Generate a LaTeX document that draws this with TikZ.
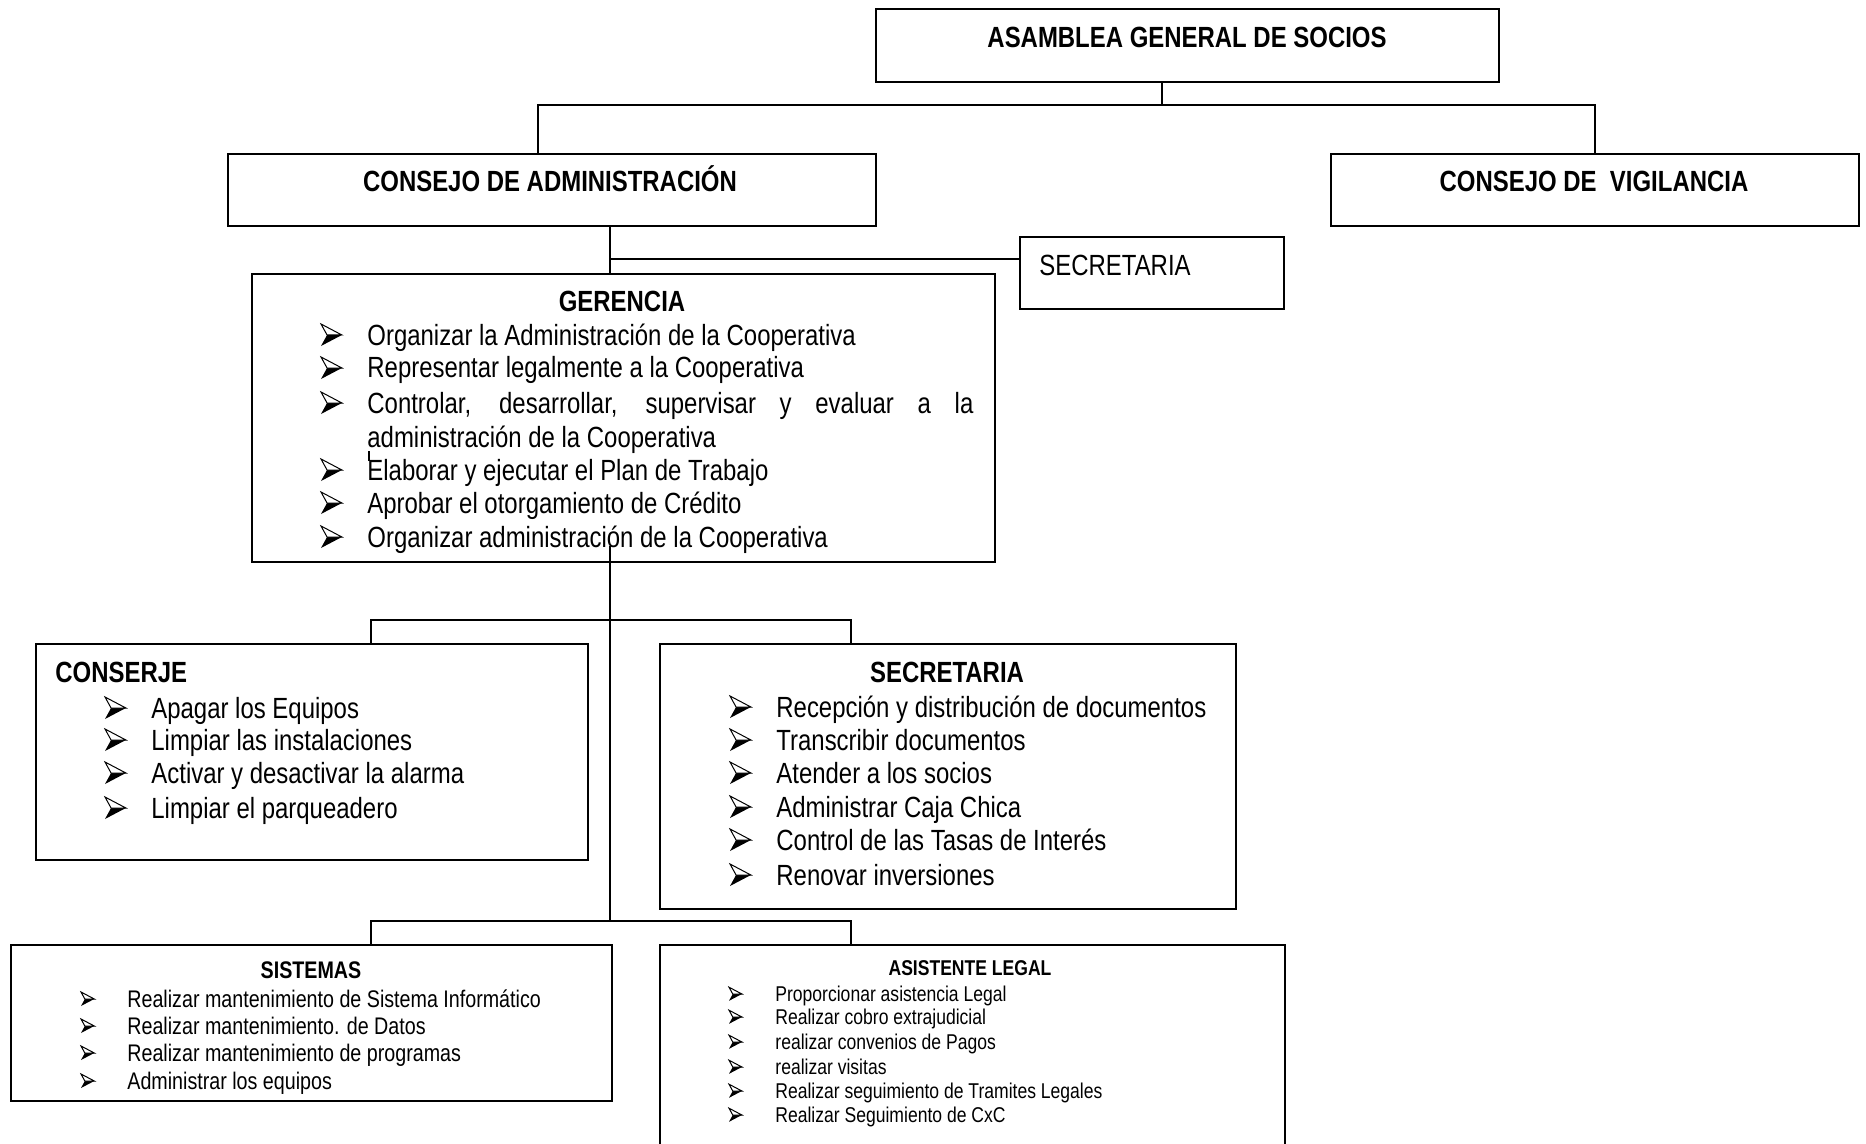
\documentclass[tikz,border=0pt]{standalone}
\usepackage{fontspec}
\setmainfont{Liberation Sans}[FakeStretch=0.82]
\newcommand\szL{\fontsize{14.6pt}{17pt}\selectfont}
\newcommand\szM{\fontsize{12pt}{14pt}\selectfont}
\newcommand\szS{\fontsize{10.7pt}{12.5pt}\selectfont}
% bulleted lines: name, bullet x, text x, baseline, text
\newcommand\itemL[5]{\pic at (#2,#4-10) {arrowbul=11}; \node[txtL] (#1) at (#3,#4) {#5};}
\newcommand\itemM[5]{\pic at (#2,#4-8) {arrowbul=7}; \node[txtM] (#1) at (#3,#4) {#5};}
\newcommand\itemS[5]{\pic at (#2,#4-7) {arrowbul=6.8}; \node[txtS] (#1) at (#3,#4) {#5};}
\begin{document}
\begin{tikzpicture}[x=0.5pt,y=-0.5pt,
  box/.style={draw, line width=1.2pt, rectangle, anchor=north west, inner sep=0},
  wire/.style={line width=0.8pt},
  ttlL/.style={anchor=base, inner sep=0, font=\szL\bfseries},
  txtL/.style={anchor=base west, inner sep=0, font=\szL},
  txtM/.style={anchor=base west, inner sep=0, font=\szM},
  txtS/.style={anchor=base west, inner sep=0, font=\szS},
  pics/arrowbul/.style={code={
    \fill (0,#1) -- (1.9*#1,0) -- (0.55*#1,0) -- cycle;
    \filldraw[fill=white, line width=0.5pt, line join=miter] (0,-#1) -- (1.9*#1,0) -- (0.55*#1,0) -- cycle;
  }}]
\useasboundingbox (0,0) rectangle (1866,1144);
\clip (0,0) rectangle (1866,1144);
\fill[white] (0,0) rectangle (1866,1144);

% boxes
\node[box, minimum width=311.5pt, minimum height=36.5pt] (asamblea) at (875,8) {};
\node[box, minimum width=324pt, minimum height=36pt] (consejoA) at (227,153) {};
\node[box, minimum width=264pt, minimum height=36pt] (vigil) at (1330,153) {};
\node[box, minimum width=132pt, minimum height=36pt] (secS) at (1019,236) {};
\node[box, minimum width=371.5pt, minimum height=144pt] (gerencia) at (251,273) {};
\node[box, minimum width=276pt, minimum height=108pt] (conserje) at (35,643) {};
\node[box, minimum width=288pt, minimum height=132.5pt] (secretaria) at (659,643) {};
\node[box, minimum width=300.5pt, minimum height=78pt] (sistemas) at (10,944) {};
\node[box, minimum width=312.5pt, minimum height=110pt] (asistente) at (659,944) {};

% connectors
\coordinate (jTop) at (1162,105);
\coordinate (jL) at (538,105);
\coordinate (jR) at (1595,105);
\draw[wire] (asamblea.south -| jTop) -- (jTop);
\draw[wire] (consejoA.north -| jL) -- (jL) -- (jR) -- (vigil.north -| jR);
\coordinate (jG) at (610,259);
\draw[wire] (consejoA.south -| jG) -- (gerencia.north -| jG);
\draw[wire] (jG) -- (secS.west |- jG);
\coordinate (gStub) at (610,546);
\coordinate (mL) at (371,620);
\coordinate (mR) at (851,620);
\coordinate (jB) at (610,921);
\coordinate (bL) at (371,921);
\coordinate (bR) at (851,921);
\draw[wire] (gStub) -- (jB);
\draw[wire] (conserje.north -| mL) -- (mL) -- (mR) -- (secretaria.north -| mR);
\draw[wire] (sistemas.north -| bL) -- (bL) -- (bR) -- (asistente.north -| bR);

% top level titles
\node[ttlL] (asambleaT) at (1187,47.5) {ASAMBLEA GENERAL DE SOCIOS};
\node[ttlL] (consejoAT) at (550,192) {CONSEJO DE ADMINISTRACIÓN};
\node[ttlL] (vigilT) at (1594,192) {CONSEJO DE~ VIGILANCIA};
\node[txtL] (secST) at (1039,276) {SECRETARIA};

% gerencia
\node[ttlL] (gerT) at (622,312) {GERENCIA};
\itemL{g1}{321}{367}{345}{Organizar la Administración de la Cooperativa}
\itemL{g2}{321}{367}{378}{Representar legalmente a la Cooperativa}
\itemL{g3}{321}{367}{413}{\makebox[303pt][s]{Controlar, desarrollar, supervisar y evaluar a la}}
\node[txtL] (g3b) at (367,447) {administración de la Cooperativa};
\itemL{g4}{321}{367}{480}{Elaborar y ejecutar el Plan de Trabajo}
\itemL{g5}{321}{367}{513}{Aprobar el otorgamiento de Crédito}
\itemL{g6}{321}{367}{547}{Organizar administración de la Cooperativa}
\draw[line width=0.6pt] (369,451) -- (369,461);

% conserje
\node[txtL, font=\szL\bfseries] (conserjeT) at (55,682) {CONSERJE};
\itemL{c1}{105}{151}{718}{Apagar los Equipos}
\itemL{c2}{105}{151}{750}{Limpiar las instalaciones}
\itemL{c3}{105}{151}{783}{Activar y desactivar la alarma}
\itemL{c4}{105}{151}{818}{Limpiar el parqueadero}

% secretaria
\node[ttlL] (secretariaT) at (947,682) {SECRETARIA};
\itemL{s1}{730}{776}{717}{Recepción y distribución de documentos}
\itemL{s2}{730}{776}{750}{Transcribir documentos}
\itemL{s3}{730}{776}{783}{Atender a los socios}
\itemL{s4}{730}{776}{817}{Administrar Caja Chica}
\itemL{s5}{730}{776}{850}{Control de las Tasas de Interés}
\itemL{s6}{730}{776}{885}{Renovar inversiones}

% sistemas
\node[anchor=base, inner sep=0, font=\szM\bfseries] (sistemasT) at (311,978) {SISTEMAS};
\itemM{t1}{81}{127}{1007}{Realizar mantenimiento de Sistema Informático}
\itemM{t2}{81}{127}{1034}{Realizar mantenimiento. de Datos}
\itemM{t3}{81}{127}{1061}{Realizar mantenimiento de programas}
\itemM{t4}{81}{127}{1089}{Administrar los equipos}

% asistente legal
\node[anchor=base, inner sep=0, font=\szS\bfseries] (asistenteT) at (970,975) {ASISTENTE LEGAL};
\itemS{a1}{729}{775}{1001}{Proporcionar asistencia Legal}
\itemS{a2}{729}{775}{1024}{Realizar cobro extrajudicial}
\itemS{a3}{729}{775}{1049}{realizar convenios de Pagos}
\itemS{a4}{729}{775}{1074}{realizar visitas}
\itemS{a5}{729}{775}{1098}{Realizar seguimiento de Tramites Legales}
\itemS{a6}{729}{775}{1122}{Realizar Seguimiento de CxC}
\end{tikzpicture}
\end{document}
